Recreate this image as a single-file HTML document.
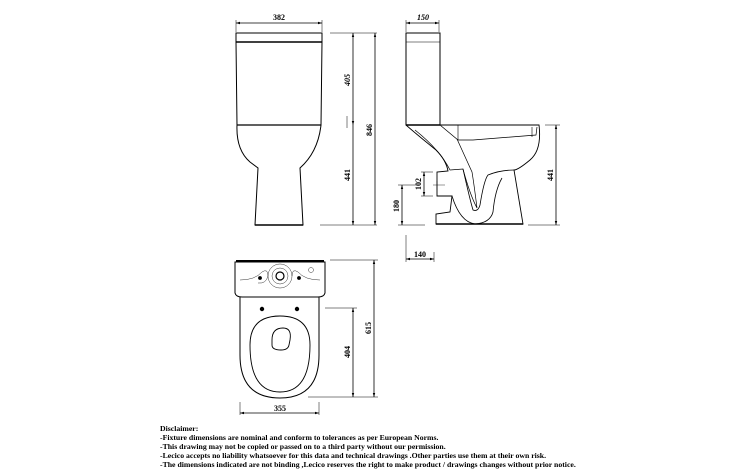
<!DOCTYPE html>
<html><head><style>
html,body{margin:0;padding:0;background:#fff;width:750px;height:475px;overflow:hidden}
svg{position:absolute;left:0;top:0}
text{font-family:"Liberation Serif",serif;font-weight:bold;fill:#000}
</style></head><body>
<svg width="750" height="475" viewBox="0 0 750 475" fill="none" stroke="#000" stroke-width="0.8">
<defs>
<marker id="a" viewBox="0 0 10 10" refX="10" refY="5" markerWidth="5" markerHeight="5" orient="auto-start-reverse"><path d="M0,2 L10,5 L0,8" fill="#000" stroke="none"/></marker>
</defs>
<!-- FRONT VIEW -->
<line x1="236" y1="23" x2="322" y2="23" marker-start="url(#a)" marker-end="url(#a)"/>
<line x1="236" y1="20" x2="236" y2="32" stroke-width="0.5"/>
<line x1="322" y1="20" x2="322" y2="32" stroke-width="0.5"/>
<text x="279" y="20" font-size="8" text-anchor="middle" stroke="none">382</text>
<rect x="236" y="33" width="86" height="9" stroke-width="1"/>
<line x1="236" y1="42" x2="322" y2="42" stroke-width="1.5"/>
<path d="M236,42 L237,125 L321,125 L322,42" stroke-width="1"/>
<line x1="237" y1="125" x2="321" y2="125" stroke-width="1.3"/>
<path d="M237,125 Q236,150 250,162 Q258,168 258,168 L255,225 L303,225 L300,168 Q318,152 321,125" stroke-width="1"/>
<line x1="255" y1="225" x2="303" y2="225" stroke-width="1.5"/>
<line x1="330" y1="33" x2="377" y2="33" stroke-width="0.5"/>
<line x1="320" y1="225" x2="377" y2="225" stroke-width="0.5"/>
<line x1="347" y1="116" x2="347" y2="128" stroke-width="0.5"/>
<line x1="353" y1="33" x2="353" y2="125" marker-start="url(#a)" marker-end="url(#a)"/>
<line x1="353" y1="125" x2="353" y2="225" marker-end="url(#a)"/>
<line x1="375" y1="33" x2="375" y2="225" marker-start="url(#a)" marker-end="url(#a)"/>
<text transform="translate(350,80) rotate(-90)" font-size="8" text-anchor="middle" stroke="none" font-style="italic">405</text>
<text transform="translate(350,175) rotate(-90)" font-size="8" text-anchor="middle" stroke="none">441</text>
<text transform="translate(372,130) rotate(-90)" font-size="8" text-anchor="middle" stroke="none">846</text>
<!-- SIDE VIEW -->
<line x1="406" y1="23" x2="439" y2="23" marker-start="url(#a)" marker-end="url(#a)"/>
<line x1="406" y1="20" x2="406" y2="32" stroke-width="0.5"/>
<line x1="439" y1="20" x2="439" y2="32" stroke-width="0.5"/>
<text x="423" y="20" font-size="8" text-anchor="middle" stroke="none" font-style="italic">150</text>
<rect x="406" y="33" width="34" height="92" stroke-width="1"/>
<line x1="406" y1="42" x2="440" y2="42" stroke-width="0.6"/>
<line x1="406" y1="125" x2="440" y2="125" stroke-width="1.5"/>
<path d="M406,125 L539,125 Q542,150 530,160 Q518,170 514,170 L523,224 L436,224 L436,214 L450,212 L452,196 L437,196 L437,172 L448,171 Q446,160 436,150 Q415,133 406,125" stroke-width="0.9"/>
<line x1="436" y1="224" x2="523" y2="224" stroke-width="1.5"/>
<path d="M415,130 Q440,150 450,170 L463,169 Q470,195 477,208 Q474,184 472,172 L457,139" stroke-width="0.7"/>
<path d="M440,125 L458,140 L473,140 L536,135 L537,127" stroke-width="0.7"/>
<path d="M458,125 L458,140 M532,127 L532,137" stroke-width="0.6"/>
<path d="M463,169 Q470,200 473,210 Q478,212 480,205 Q484,180 488,175 Q500,170 514,170" stroke-width="0.8"/>
<path d="M452,196 Q460,222 475,224 Q490,223 493,212 Q495,190 502,178" stroke-width="0.8"/>
<line x1="433" y1="185" x2="445" y2="185" stroke-width="0.4"/>
<line x1="437" y1="181" x2="437" y2="190" stroke-width="0.4"/>
<line x1="545" y1="125" x2="560" y2="125" stroke-width="0.5"/>
<line x1="528" y1="225" x2="560" y2="225" stroke-width="0.5"/>
<line x1="556" y1="125" x2="556" y2="225" marker-start="url(#a)" marker-end="url(#a)"/>
<text transform="translate(553,175) rotate(-90)" font-size="8" text-anchor="middle" stroke="none">441</text>
<line x1="421" y1="172" x2="433" y2="172" stroke-width="0.5"/>
<line x1="421" y1="196" x2="433" y2="196" stroke-width="0.5"/>
<line x1="424" y1="172" x2="424" y2="196" marker-start="url(#a)" marker-end="url(#a)"/>
<text transform="translate(421,184) rotate(-90)" font-size="8" text-anchor="middle" stroke="none">102</text>
<line x1="398" y1="185" x2="420" y2="185" stroke-width="0.5"/>
<line x1="398" y1="225" x2="425" y2="225" stroke-width="0.5"/>
<line x1="402" y1="185" x2="402" y2="225" marker-start="url(#a)" marker-end="url(#a)"/>
<text transform="translate(399,206) rotate(-90)" font-size="8" text-anchor="middle" stroke="none">180</text>
<line x1="406" y1="235" x2="406" y2="262" stroke-width="0.5"/>
<line x1="434" y1="252" x2="434" y2="262" stroke-width="0.5"/>
<line x1="406" y1="259" x2="434" y2="259" marker-start="url(#a)" marker-end="url(#a)"/>
<text x="420" y="257" font-size="8" text-anchor="middle" stroke="none">140</text>
<!-- TOP VIEW -->
<path d="M235,262 L235,293 Q236,297 242,297 L318,297 Q324,297 325,293 L325,262 Z" stroke-width="1"/>
<line x1="236" y1="261" x2="324" y2="261" stroke-width="2"/>
<path d="M240,297 L240,355 Q240,398 280,398 Q319,398 319,355 L319,297" stroke-width="1"/>
<path d="M250,345 Q250,316 280,316 Q310,316 310,345 Q310,392 280,392 Q250,392 250,345 Z" stroke-width="0.9"/>
<path d="M272,340 Q272,328 283,328 Q292,328 290,340 L289,345 Q288,350 281,350 Q272,350 272,345 Z" stroke-width="0.9"/>
<circle cx="280" cy="276" r="4" stroke-width="1.2"/>
<circle cx="280" cy="276" r="8" stroke-width="0.4"/>
<circle cx="280" cy="276" r="12" stroke-width="0.4"/>
<path d="M240,280 Q255,280 262,272 Q268,268 268,276 Q266,284 258,283 M320,280 Q305,280 298,272 Q292,268 292,276" stroke-width="0.4"/>
<circle cx="260" cy="278" r="1.5" fill="#000"/><circle cx="299" cy="278" r="1.5" fill="#000"/>
<circle cx="311" cy="270" r="2.5" stroke-width="0.4"/>
<circle cx="262" cy="309" r="1.8" fill="#000"/><circle cx="297" cy="309" r="1.8" fill="#000"/>
<line x1="330" y1="260" x2="378" y2="260" stroke-width="0.5"/>
<line x1="325" y1="308" x2="357" y2="308" stroke-width="0.5"/>
<line x1="308" y1="397" x2="378" y2="397" stroke-width="0.5"/>
<line x1="353" y1="308" x2="353" y2="397" marker-start="url(#a)" marker-end="url(#a)"/>
<line x1="374" y1="260" x2="374" y2="397" marker-start="url(#a)" marker-end="url(#a)"/>
<text transform="translate(350,352) rotate(-90)" font-size="8" text-anchor="middle" stroke="none">404</text>
<text transform="translate(371,328) rotate(-90)" font-size="8" text-anchor="middle" stroke="none">615</text>
<line x1="240" y1="402" x2="240" y2="415" stroke-width="0.5"/>
<line x1="319" y1="402" x2="319" y2="415" stroke-width="0.5"/>
<line x1="240" y1="413" x2="319" y2="413" marker-start="url(#a)" marker-end="url(#a)"/>
<text x="280" y="411" font-size="8" text-anchor="middle" stroke="none">355</text>
<!-- DISCLAIMER -->
<g font-size="7.75" stroke="none">
<text x="160" y="431">Disclaimer:</text>
<text x="160" y="440">-Fixture dimensions are nominal and conform to tolerances as per European Norms.</text>
<text x="160" y="449">-This drawing may not be copied or passed on to a third party without our permission.</text>
<text x="160" y="458">-Lecico accepts no liability whatsoever for this data and technical drawings .Other parties use them at their own risk.</text>
<text x="160" y="467">-The dimensions indicated are not binding ,Lecico reserves the right to make product / drawings changes without prior notice.</text>
</g>
</svg>
</body></html>
